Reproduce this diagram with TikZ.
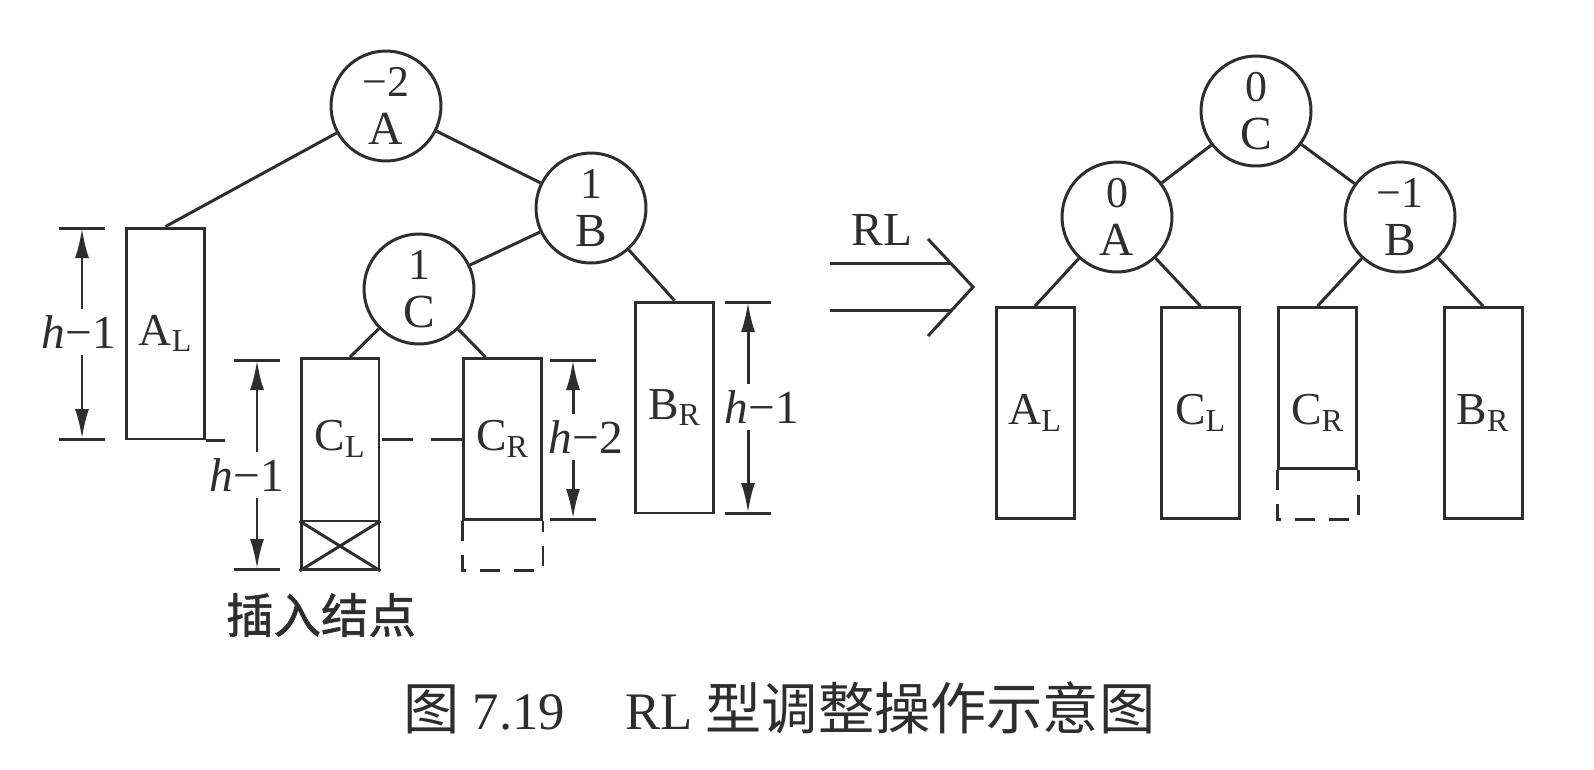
\documentclass[tikz,border=0pt]{standalone}
\usepackage{fontspec}
\setmainfont{Liberation Serif}
\newfontfamily\cjk{Noto Sans CJK SC}
\newfontfamily\cjkbold[FakeBold=1.2]{Noto Sans CJK SC}
\usetikzlibrary{arrows.meta}
\definecolor{ink}{HTML}{2E2E2E}
\newcommand{\bnum}[2]{{\fontsize{25}{27}\selectfont #1}\\#2}

\tikzset{
  avl/.style={circle, draw, minimum size=2.2cm, inner sep=0pt, align=center,
    font=\fontsize{27}{27}\selectfont},
  stree/.style={rectangle, draw, minimum width=1.56cm, minimum height=4.22cm,
    inner sep=0pt, font=\fontsize{26}{28}\selectfont},
  shortstree/.style={stree, minimum height=3.22cm},
  boxlabel/.style={inner sep=0pt, font=\fontsize{26}{28}\selectfont},
  dimlabel/.style={inner sep=3pt, font=\fontsize{27}{29}\selectfont},
  dimarrow/.style={-{Latex[length=0.6cm,width=0.28cm]}},
  dashpat/.style={dash pattern=on 0.4cm off 0.28cm},
  linkpat/.style={dash pattern=on 0.62cm off 0.36cm},
}

\begin{document}
\begin{tikzpicture}[x=0.02cm, y=-0.02cm, line width=1.7pt, color=ink]
 \fill[white] (0,0) rectangle (1594,769);
 \useasboundingbox (0,0) rectangle (1594,769);

 % before: unbalanced tree
 \node[avl] (a) at (386,106) {\bnum{−2}{A}};
 \node[avl] (b) at (591,208) {\bnum{1}{B}};
 \node[avl] (c) at (419,289) {\bnum{1}{C}};

 \node[stree]      (al) at (165.5,333.5) {A\textsubscript{L}};
 \node[stree]      (cl) at (340,464)     {};
 \node[shortstree] (cr) at (502.5,439)   {C\textsubscript{R}};
 \node[stree]      (br) at (674.5,407.5) {B\textsubscript{R}};
 \node[boxlabel]   (cllabel) at (cl |- cr) {C\textsubscript{L}};

 \draw (a) -- (b);
 \draw (b) -- (c);
 \draw (a) -- (al.north);
 \draw (b) -- (br.north);
 \draw (c) -- ([xshift=0.2cm]cl.north);
 \draw (c) -- ([xshift=-0.34cm]cr.north);

 % inserted node and missing level
 \draw ([yshift=1cm]cl.south west) -- ([yshift=1cm]cl.south east);
 \draw ([yshift=1cm]cl.south west) -- (cl.south east);
 \draw ([yshift=1cm]cl.south east) -- (cl.south west);
 \draw[dashpat] (cr.south west) -- ([yshift=-1cm]cr.south west)
   -- ([yshift=-1cm]cr.south east) -- (cr.south east);
 \draw[linkpat] (cr.west) -- (cr.west -| cl.east);
 \draw (al.south east) -- ++(0.38cm,0);

 % heights
 \foreach \n/\x/\yt/\yb/\lx/\ly/\t in {1/82/228/439/79/332/1, 2/257/360/569/247/475/1,
     3/573/360/519/586/437/2, 4/748/302/513/762/407/1} {
   \coordinate (top\n) at (\x,\yt);
   \coordinate (bot\n) at (\x,\yb);
   \node[dimlabel] (h\n) at (\lx,\ly) {\textit{h}−\t};
   \draw[dimarrow] (h\n.north -| top\n) -- (top\n);
   \draw[dimarrow] (h\n.south -| bot\n) -- (bot\n);
   \draw ([xshift=-0.46cm]top\n) -- ([xshift=0.46cm]top\n);
   \draw ([xshift=-0.46cm]bot\n) -- ([xshift=0.46cm]bot\n);
 }

 \node[font=\fontsize{27}{29}\selectfont\cjkbold] (ins) at (321,615) {插入结点};

 % rotation arrow
 \node[dimlabel] (rl) at (882,230) {RL};
 \coordinate (tip) at (973,287);
 \draw (830,263) -- (950,263);
 \draw (830,310) -- (952,310);
 \draw (928,239) -- (tip) -- (928,336);

 % after: balanced tree
 \node[avl] (rc) at (1256,111) {\bnum{0}{C}};
 \node[avl] (ra) at (1117,217) {\bnum{0}{A}};
 \node[avl] (rb) at (1400,217) {\bnum{−1}{B}};

 \node[stree]      (ral) at (1035,413)   {A\textsubscript{L}};
 \node[stree]      (rcl) at (1200.5,413) {C\textsubscript{L}};
 \node[shortstree] (rcr) at (1317.5,388) {};
 \node[stree]      (rbr) at (1483,413)   {B\textsubscript{R}};
 \node[boxlabel]   (rcrlabel) at (rcr |- ral) {C\textsubscript{R}};
 \draw[dashpat] (rcr.south west) -- ([yshift=-1cm]rcr.south west)
   -- ([yshift=-1cm]rcr.south east) -- (rcr.south east);

 \draw (rc) -- (ra);
 \draw (rc) -- (rb);
 \draw (ra) -- (ral.north);
 \draw (ra) -- (rcl.north);
 \draw (rb) -- (rcr.north);
 \draw (rb) -- (rbr.north);

 \node[anchor=west, inner sep=0pt, font=\fontsize{30}{32}\selectfont] (cap) at (402,708)
   {{\fontsize{32}{34}\cjk 图} 7.19\hspace{1.2cm}RL {\fontsize{32}{34}\cjk 型调整操作示意图}};
\end{tikzpicture}
\end{document}
